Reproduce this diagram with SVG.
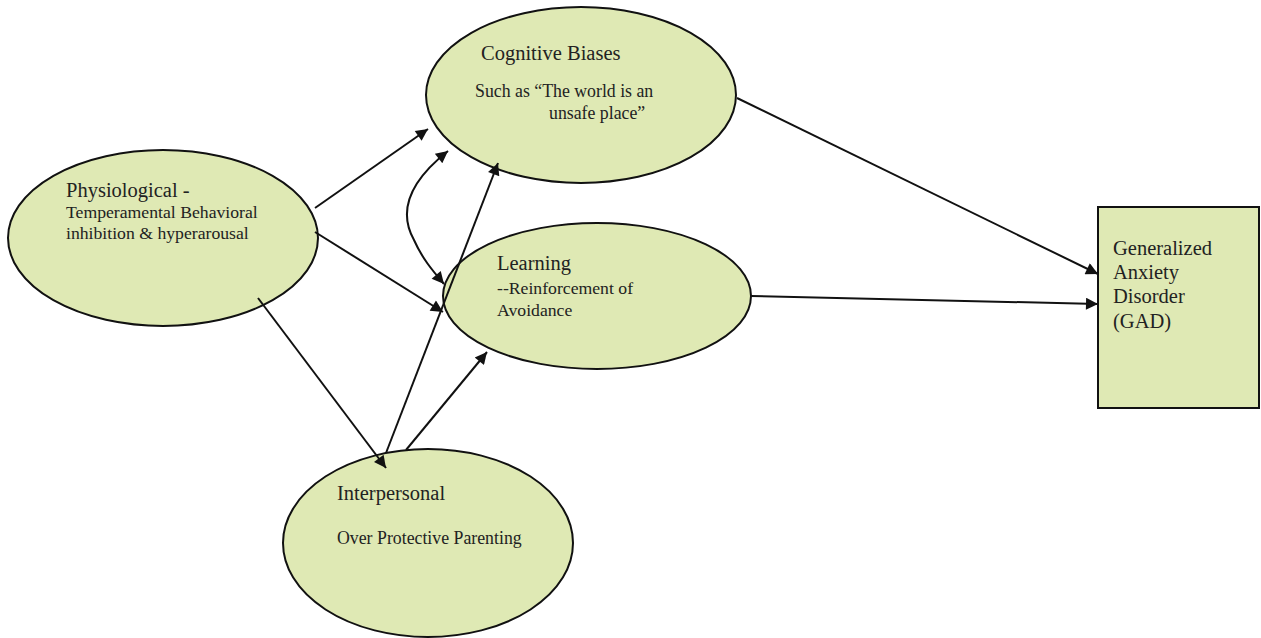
<svg xmlns="http://www.w3.org/2000/svg" width="1261" height="638" viewBox="0 0 1261 638">
<style>
.node{fill:#dfe9b4;stroke:#111;stroke-width:2}
.edge{fill:none;stroke:#111;stroke-width:2}
.t1{font-family:"Liberation Serif",serif;font-size:20.5px;fill:#222}
.t2{font-family:"Liberation Serif",serif;font-size:17.7px;fill:#222}
.t3{font-family:"Liberation Serif",serif;font-size:17.8px;fill:#222}
</style>
<defs>
<marker id="ahb" viewBox="0 0 10 10" refX="10" refY="5" markerWidth="15" markerHeight="12" markerUnits="userSpaceOnUse" orient="auto-start-reverse">
<path d="M0,0 L10,5 L0,10 z" fill="#111"/>
</marker>
</defs>
<rect width="1261" height="638" fill="#fff"/>
<g id="cognitive">
<ellipse class="node" cx="581" cy="95" rx="155" ry="88"/>
<text class="t1" x="481" y="60">Cognitive Biases</text>
<text class="t3" x="475" y="97">Such as “The world is an</text>
<text class="t3" x="549" y="119">unsafe place”</text>
</g>
<g id="physiological">
<ellipse class="node" cx="163" cy="238" rx="155" ry="88"/>
<text class="t1" x="66" y="197">Physiological -</text>
<text class="t2" x="66" y="218">Temperamental Behavioral</text>
<text class="t2" x="66" y="239">inhibition &amp; hyperarousal</text>
</g>
<g id="learning">
<ellipse class="node" cx="597" cy="296" rx="154" ry="73"/>
<text class="t1" x="497" y="270">Learning</text>
<text class="t2" x="497" y="294">--Reinforcement of</text>
<text class="t2" x="497" y="316">Avoidance</text>
</g>
<g id="interpersonal">
<ellipse class="node" cx="428" cy="543" rx="145" ry="94"/>
<text class="t1" x="337" y="500">Interpersonal</text>
<text class="t3" x="337" y="544">Over Protective Parenting</text>
</g>
<g id="gad">
<rect class="node" x="1098" y="207" width="161" height="201"/>
<text class="t1" x="1113" y="255">Generalized</text>
<text class="t1" x="1113" y="279">Anxiety</text>
<text class="t1" x="1113" y="303">Disorder</text>
<text class="t1" x="1113" y="328">(GAD)</text>
</g>
<g id="connectors">
<line class="edge" x1="315" y1="208" x2="428" y2="129" marker-end="url(#ahb)"/>
<line class="edge" x1="315" y1="232" x2="443" y2="312" marker-end="url(#ahb)"/>
<line class="edge" x1="258" y1="298" x2="386" y2="468" marker-end="url(#ahb)"/>
<line class="edge" x1="386" y1="453" x2="498" y2="163" marker-end="url(#ahb)"/>
<line class="edge" x1="406" y1="450" x2="487" y2="352" marker-end="url(#ahb)"/>
<path class="edge" d="M448,151 C405,185 400,215 414,240 C422,258 432,270 444,284" marker-start="url(#ahb)" marker-end="url(#ahb)"/>
<line class="edge" x1="737" y1="98" x2="1098" y2="274" marker-end="url(#ahb)"/>
<line class="edge" x1="751" y1="296" x2="1098" y2="304" marker-end="url(#ahb)"/>
</g>
</svg>
